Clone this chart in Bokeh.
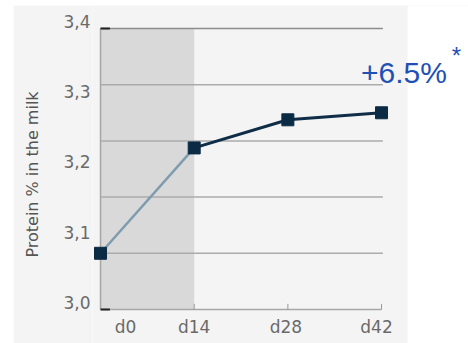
from bokeh.plotting import figure
from bokeh.models import (Range1d, FixedTicker, CustomJSTickFormatter, BoxAnnotation, Label,
                          Spacer, Row, Column)
from bokeh.core.properties import value
from bokeh.embed import file_html
from bokeh.resources import INLINE

# ---- data ----
days = [0, 14, 28, 42]
day_labels = ["d0", "d14", "d28", "d42"]
protein = [3.08, 3.23, 3.27, 3.28]
y_ticks = [3.0, 3.1, 3.2, 3.3, 3.4]
y_tick_labels = ["3,0", "3,1", "3,2", "3,3", "3,4"]
grid_values = [3.08, 3.16, 3.24, 3.32]
adapt_end = 14
gain_label = "+6.5%"
y_title = "Protein % in the milk"

# ---- style / layout ----
x_label_offset_px = [25, 0, -2, -5]
y_label_nudge = 0.01
panel_right_edge = 45.9     # where the grey panel ends (x units)
GRID = "#ababab"
AXIS = "#a6a6a6"
PANEL = "#f4f4f4"

p = figure(width=455, height=338,
           x_range=Range1d(-1.2, 55.0), y_range=Range1d(2.9516, 3.4327),
           output_backend="svg", toolbar_location=None, title=None,
           min_border_left=79, min_border_right=0, min_border_top=0, min_border_bottom=0,
           background_fill_color=PANEL, border_fill_color=PANEL,
           outline_line_color=None)

p.xgrid.visible = False
p.ygrid.visible = False
p.xaxis.visible = False

# white area right of the grey panel
p.add_layout(BoxAnnotation(left=panel_right_edge, fill_color="white", fill_alpha=1.0,
                           line_color=None, level="image"))

# y axis: labels + title
p.yaxis.ticker = FixedTicker(ticks=[round(t + y_label_nudge, 4) for t in y_ticks])
p.yaxis.formatter = CustomJSTickFormatter(args=dict(names=y_tick_labels), code="return names[index]")
p.yaxis.axis_line_color = None
p.yaxis.major_tick_line_color = None
p.yaxis.minor_tick_line_color = None
p.yaxis.major_tick_out = 0
p.yaxis.major_label_standoff = 2
p.yaxis.major_label_text_font = "DejaVu Sans"
p.yaxis.major_label_text_font_size = "17px"
p.yaxis.major_label_text_color = "#6a6a6a"
p.yaxis.axis_label = y_title
p.yaxis.axis_label_text_font = "DejaVu Sans"
p.yaxis.axis_label_text_font_size = "16px"
p.yaxis.axis_label_text_font_style = "normal"
p.yaxis.axis_label_text_color = "#555555"
p.yaxis.axis_label_standoff = 18

# shaded adaptation period
p.quad(left=[days[0]], right=[adapt_end], bottom=[y_ticks[0]], top=[y_ticks[-1]],
       fill_color="#d9d9d9", line_color=None)

# grid lines
n = len(grid_values)
p.segment(x0=[days[0]] * n, x1=[days[-1] + 0.2] * n, y0=grid_values, y1=grid_values,
          line_color=GRID, line_width=1.5)
p.segment(x0=[days[0]], x1=[days[-1] + 0.2], y0=[y_ticks[-1]], y1=[y_ticks[-1]],
          line_color="#8c8c8c", line_width=1.5)

# axis lines
p.segment(x0=[days[0]], x1=[days[-1]], y0=[y_ticks[0]], y1=[y_ticks[0]],
          line_color=AXIS, line_width=1.5)
p.segment(x0=[days[0]], x1=[days[0]], y0=[y_ticks[0]], y1=[y_ticks[-1]],
          line_color=AXIS, line_width=1.5)
# tick marks on x axis
p.segment(x0=days[1:], x1=days[1:], y0=[y_ticks[0]] * 3, y1=[y_ticks[0] + 0.008] * 3,
          line_color="#999999", line_width=1)
# short dark ticks at ends of y axis
p.segment(x0=[days[0]] * 2, x1=[days[0] + 1.4] * 2, y0=[y_ticks[0], y_ticks[-1]],
          y1=[y_ticks[0], y_ticks[-1]], line_color="#222222", line_width=2)

# x tick labels
p.text(x=days, y=[y_ticks[0]] * len(days), text=day_labels,
       x_offset=x_label_offset_px, y_offset=8,
       text_align="center", text_baseline="top",
       text_font=value("DejaVu Sans"), text_font_size="17px", text_color="#6a6a6a")

# data line
p.line(days[:2], protein[:2], line_color="#7f9cae", line_width=2.5)
p.line(days[1:], protein[1:], line_color="#0f2d47", line_width=3)
p.scatter(days, protein, marker="square", size=12, fill_color="#0b2b45", line_color="#0b2b45")

# annotation
p.add_layout(Label(x=days[-1], y=protein[-1], text=gain_label, x_offset=22.5, y_offset=40,
                   text_align="center", text_baseline="alphabetic",
                   text_font="Liberation Sans", text_font_size="30px", text_color="#1f50b4"))
p.add_layout(Label(x=days[-1], y=protein[-1], text="*", x_offset=75, y_offset=71,
                   text_align="center", text_baseline="top",
                   text_font="Liberation Sans", text_font_size="24px", text_color="#1f50b4"))

layout = Row(Spacer(width=13, height=343),
             Column(Spacer(width=455, height=5), p, spacing=0), spacing=0)

open("out.html", "w").write(file_html(layout, INLINE))
